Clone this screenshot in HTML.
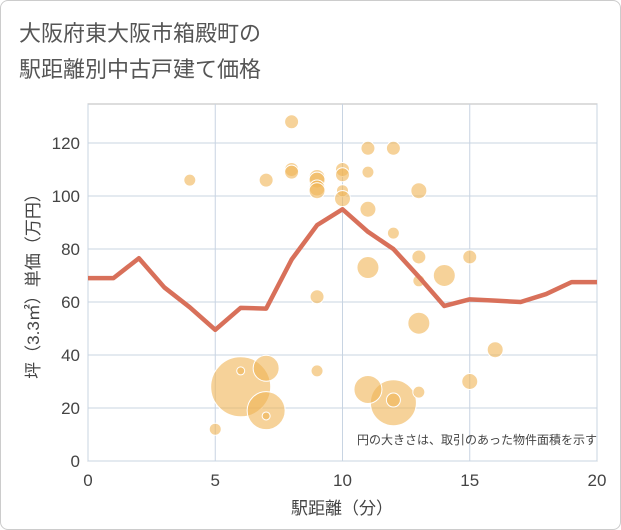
<!DOCTYPE html>
<html><head><meta charset="utf-8"><style>
body{margin:0;background:#fff;}
#c{position:relative;width:621px;height:530px;box-sizing:border-box;border:1px solid #ccc;border-radius:8px;overflow:hidden;font-family:"Liberation Sans","Noto Sans CJK JP",sans-serif;}
</style></head><body>
<div id="c">
<svg id="s" width="621" height="530">
<text x="18" y="40" font-size="22" fill="#555" font-family="Liberation Sans,Noto Sans CJK JP,sans-serif">大阪府東大阪市箱殿町の</text>
<text x="18" y="76" font-size="22" fill="#555" font-family="Liberation Sans,Noto Sans CJK JP,sans-serif">駅距離別中古戸建て価格</text>
<rect x="87" y="103" width="509" height="357" fill="#fff" stroke="#bbb"/>
<g id="grid"></g><g id="bub"></g><g id="ln"></g><g id="ax"></g>
<text x="596" y="443" text-anchor="end" font-size="12" fill="#444" font-family="Liberation Sans,Noto Sans CJK JP,sans-serif">円の大きさは、取引のあった物件面積を示す</text>
<text x="341" y="513" text-anchor="middle" font-size="17" fill="#444" font-family="Liberation Sans,Noto Sans CJK JP,sans-serif">駅距離（分）</text>
<text transform="translate(38,281) rotate(-90)" text-anchor="middle" font-size="17" fill="#444" font-family="Liberation Sans,Noto Sans CJK JP,sans-serif">坪（3.3㎡）単価（万円）</text>
</svg></div>
<script>
const xTicks=[0,5,10,15,20];
const yTicks=[0,20,40,60,80,100,120];
const lineX=[0,1,2,3,4,5,6,7,8,9,10,11,12,13,14,15,16,17,18,19,20];
const lineY=[69,69,76.5,65.5,58,49.5,57.8,57.5,76,89,95,86.5,80,69.5,58.5,61,60.5,60,63,67.5,67.5];
const bubX=[6,7,7,12,11,7,13,14,11,15,16,5,6,7,4,8,8,8,9,9,9,9,9,9,10,10,10,10,11,11,11,12,12,12,13,13,13,13,15];
const bubY=[28,19,35,22,27,106,52,70,73,30,42,12,34,17,106,128,110,109,107,106,103,102,62,34,110,108,102,99,118,109,95,118,86,23,102,77,68,26,77];
const bubR=[30,19,13,23,14,7,11,11,11,8,8,6,4,4,6,7,7,7,8,8,8,8,7,6,7,7,6,8,7,6,8,7,6,7,8,7,6,6,7];
const NS='http://www.w3.org/2000/svg';
const X=v=>87+v*509/20, Y=v=>460-v*318/120;
function mk(t,a,p){const e=document.createElementNS(NS,t);for(const k in a)e.setAttribute(k,a[k]);p.appendChild(e);return e;}
const g=document.getElementById('grid'),ax=document.getElementById('ax');
xTicks.forEach(v=>{
 const l=mk('line',{x1:X(v),x2:X(v),y1:103,y2:460,stroke:'#c8d4e2','stroke-width':1},g);
 
 
 const t=mk('text',{x:X(v),y:485,'text-anchor':'middle','font-size':17,fill:'#444'},ax);t.textContent=v;
 
 
});
yTicks.forEach(v=>{
 const l=mk('line',{x1:87,x2:596,y1:Y(v),y2:Y(v),stroke:'#c8d4e2','stroke-width':1},g);
 
 
 const t=mk('text',{x:79,y:Y(v)+6,'text-anchor':'end','font-size':17,fill:'#444'},ax);t.textContent=v;
 
 
});
const b=document.getElementById('bub');
bubX.forEach((x,i)=>{
 const c=mk('circle',{cx:X(x),cy:Y(bubY[i]),r:bubR[i],fill:'rgba(240,180,85,0.6)',stroke:'#fff','stroke-width':1},b);
 
 
});
const p=mk('polyline',{points:lineX.map((x,i)=>X(x)+','+Y(lineY[i])).join(' '),fill:'none',stroke:'#d8705a','stroke-width':4.5,'stroke-linejoin':'round'},document.getElementById('ln'));


</script>
</body></html>
